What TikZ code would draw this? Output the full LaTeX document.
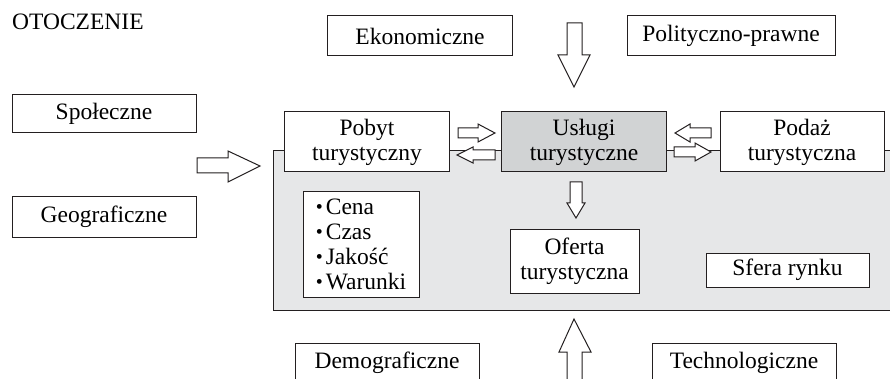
\documentclass[tikz,border=0pt]{standalone}
\usepackage{fontspec}
\setmainfont{Liberation Serif}
\newcommand\mybul{\raisebox{1pt}{\fontsize{20}{20}\selectfont\textbullet}\hspace{3pt}}
\begin{document}
\begin{tikzpicture}[x=1pt,y=-1pt,
  every node/.style={font=\fontsize{23.5}{25}\selectfont, inner sep=0pt},
  box/.style={draw=ln, fill=white, line width=1pt, align=center},
  fat/.style={draw=ln, fill=white, line width=1pt, line join=miter},
]
\definecolor{ln}{HTML}{231F20}
\definecolor{area}{HTML}{E6E7E8}
\definecolor{dark}{HTML}{D1D3D4}
\useasboundingbox (0,0) rectangle (890,379);
\clip (0,0) rectangle (890,379);
% market sphere area
\path[fill=area, draw=ln, line width=1pt] (273,151) rectangle (900,310);
% title
\node[anchor=base west] (ot) at (12,30) {OTOCZENIE};
% environment boxes
\node[box, minimum width=184, minimum height=38] (spol) at (104,114) {Społeczne};
\node[box, minimum width=184, minimum height=40] (geo) at (104,217) {Geograficzne};
\node[box, minimum width=185, minimum height=40] (eko) at (420,36) {Ekonomiczne};
\node[box, minimum width=208, minimum height=40] (pol) at (731,36) {Polityczno-prawne};
\node[box, minimum width=184, minimum height=40] (demo) at (387,363) {Demograficzne};
\node[box, minimum width=184, minimum height=40] (tech) at (744,363) {Technologiczne};
% market boxes
\node[box, minimum width=165, minimum height=60] (pobyt) at (367,142) {Pobyt\\turystyczny};
\node[box, fill=dark, minimum width=165, minimum height=60] (uslugi) at (584,142) {Usługi\\turystyczne};
\node[box, minimum width=164, minimum height=60] (podaz) at (802,142) {Podaż\\turystyczna};
\node[box, minimum width=116, minimum height=105, align=left] (lista) at (361,244.5)
  {\mybul Cena\\\mybul Czas\\\mybul Jakość\\\mybul Warunki};
\node[box, minimum width=129, minimum height=64] (oferta) at (574.5,261) {Oferta\\turystyczna};
\node[box, minimum width=163, minimum height=34] (sfera) at (787.5,270) {Sfera rynku};
% block arrows
% top, down into market
\draw[fat] (567,23) -- (582,23) -- (582,55) -- (590,55) -- (574,87) -- (558,55) -- (567,55) -- cycle;
% left, into market
\draw[fat] (197,158) -- (228,158) -- (228,151) -- (260,166) -- (228,182) -- (228,173) -- (197,173) -- cycle;
% bottom, up into market
\draw[fat] (567,385) -- (567,352) -- (559,352) -- (574,319) -- (591,352) -- (582,352) -- (582,385);
% uslugi -> oferta
\draw[fat] (570,182) -- (582,182) -- (582,203) -- (585,203) -- (576,218) -- (567,203) -- (570,203) -- cycle;
% pobyt -> uslugi
\draw[fat] (458,128) -- (478,128) -- (478,124) -- (495,133) -- (478,142) -- (478,138) -- (458,138) -- cycle;
% uslugi -> pobyt
\draw[fat] (495,150) -- (473,150) -- (473,147) -- (457,155) -- (473,163) -- (473,160) -- (495,160) -- cycle;
% podaz -> uslugi
\draw[fat] (711,128) -- (690,128) -- (690,124) -- (675,133) -- (690,142) -- (690,138) -- (711,138) -- cycle;
% uslugi -> podaz
\draw[fat] (674,147) -- (695,147) -- (695,143) -- (711,152) -- (695,161) -- (695,157) -- (674,157) -- cycle;
\end{tikzpicture}
\end{document}
